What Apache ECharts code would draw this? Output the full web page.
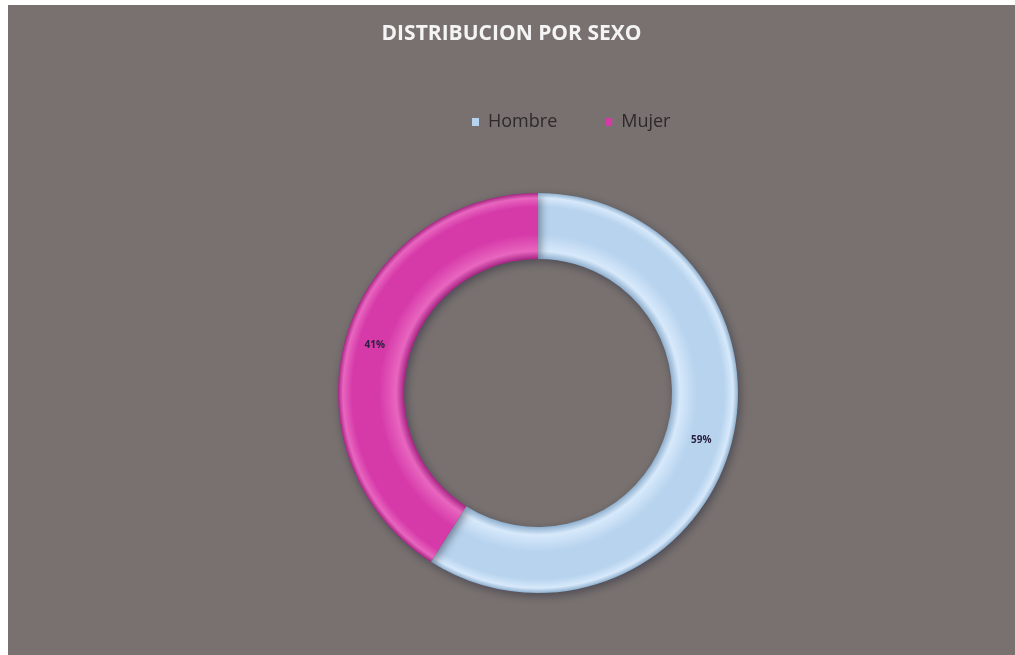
<!DOCTYPE html>
<html>
<head>
<meta charset="utf-8">
<script src="https://cdn.jsdelivr.net/npm/echarts@6/dist/echarts.min.js"></script>
<style>
  html, body { margin: 0; padding: 0; background: #ffffff; width: 1015px; height: 655px; overflow: hidden; }
  #chart { position: absolute; left: 8px; top: 5px; width: 1007px; height: 650px; background: #78716f; }
</style>
</head>
<body>
<div id="chart"></div>
<script>
// Gender distribution (percent)
const categories = ['Hombre', 'Mujer'];
const shares = [59, 41];

const chart = echarts.init(document.getElementById('chart'));

const cx = 530, cy = 388, rIn = 134, rOut = 200;
const f = r => r / rOut;

// Bevelled ring shading: darker at the edges, lighter toward the middle of the band
function ringShade(edge, mid, light) {
  return new echarts.graphic.RadialGradient(cx, cy, rOut, [
    { offset: f(rIn), color: edge },
    { offset: f(rIn + 8), color: light },
    { offset: f(rIn + 25), color: mid },
    { offset: f(rOut - 14), color: mid },
    { offset: f(rOut - 5), color: light },
    { offset: 1, color: edge }
  ], true);
}

const palette = [
  ringShade('#8fb0cf', '#b7d3ee', '#d7e9fb'),
  ringShade('#a82584', '#d63aa9', '#e866bf')
];
const legendColors = ['#b7d3ee', '#d63aa9'];

chart.setOption({
  backgroundColor: '#78716f',
  title: {
    text: 'DISTRIBUCION POR SEXO',
    left: 'center',
    top: 14,
    textStyle: { color: '#f4f4f4', fontSize: 21, fontWeight: 'bold', fontFamily: 'Open Sans' }
  },
  legend: {
    top: 103,
    left: 459,
    itemGap: 48,
    itemWidth: 7,
    itemHeight: 8,
    icon: 'rect',
    textStyle: { color: '#2d2a2a', fontSize: 18, fontFamily: 'Open Sans', padding: [0, 0, 0, 4] },
    data: categories.map((c, i) => ({ name: c, itemStyle: { color: legendColors[i] } }))
  },
  series: [{
    type: 'pie',
    center: [cx, cy],
    radius: [rIn, rOut],
    startAngle: 90,
    clockwise: true,
    avoidLabelOverlap: false,
    label: {
      show: true,
      position: 'inside',
      formatter: '{c}%',
      color: '#2a2140',
      fontSize: 10,
      fontWeight: 'bold',
      fontFamily: 'Open Sans'
    },
    labelLine: { show: false },
    itemStyle: {
      borderWidth: 0,
      shadowBlur: 10,
      shadowColor: 'rgba(40,40,60,0.55)',
      shadowOffsetX: 2,
      shadowOffsetY: 3
    },
    emphasis: { disabled: true },
    data: categories.map((c, i) => ({
      name: c,
      value: shares[i],
      itemStyle: { color: palette[i] }
    }))
  }]
});
</script>
</body>
</html>
